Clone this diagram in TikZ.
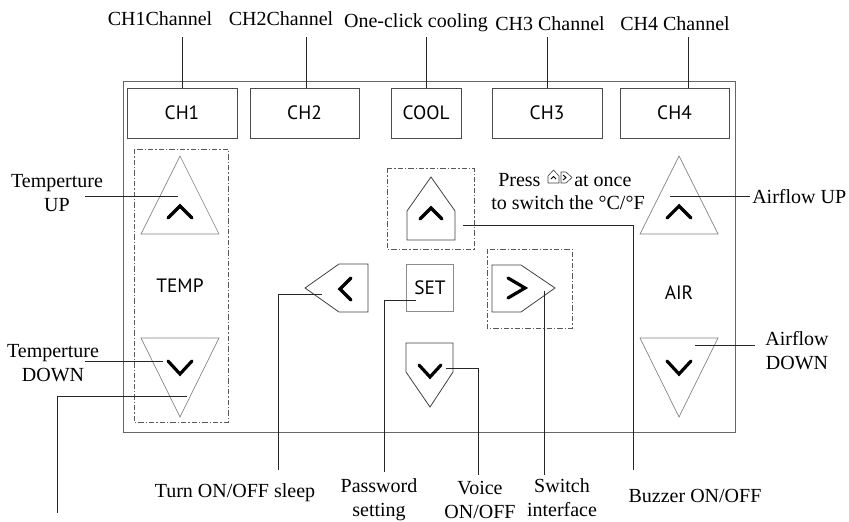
\documentclass[tikz,border=0pt]{standalone}
\usepackage{fontspec}
\setmainfont{Liberation Serif}
\newfontfamily\keyfont{PT Sans}
\usetikzlibrary{positioning}

\tikzset{
  lbl/.style={font=\fontsize{15}{17.5}\selectfont, align=center, inner sep=0pt},
  btn/.style={font=\keyfont\fontsize{14.5}{16}\selectfont, inner sep=0pt},
  chkey/.style={btn, draw=black!70, line width=0.6pt, minimum height=37.5pt},
  setkey/.style={btn, draw=black!45, line width=0.6pt, minimum size=35.5pt},
  panel/.style={draw=black!60, line width=0.7pt},
  grp/.style={draw=black!65, line width=0.5pt, dash pattern=on 4pt off 1.5pt on 1pt off 1.5pt},
  tri/.style={draw=black!50, line width=0.5pt},
  key/.style={draw=black!75, line width=0.6pt},
  chev/.style={line width=2.4pt, line cap=round},
  lead/.style={draw=black!85, line width=0.5pt}
}

\begin{document}
\begin{tikzpicture}[x=0.75pt,y=-0.75pt]
  \useasboundingbox (0,0) rectangle (849,521);
  \draw[panel] (123,81) rectangle (735,432);

  % channel keys on top
  \foreach \nm/\txt/\cx/\w in {ch1/CH1/182/110, ch2/CH2/304.5/109, cool/COOL/426/70,
                               ch3/CH3/547/110, ch4/CH4/674.5/109}
    \node[chkey, minimum width=\w*0.75pt] (\nm) at (\cx,113) {\txt};
  \node[lbl, anchor=base] (lch1) at (160,26) {CH1Channel};
  \node[lbl, anchor=base] (lch2) at (281,26) {CH2Channel};
  \node[lbl, anchor=base] (lcool) at (416,27) {One-click cooling};
  \node[lbl, anchor=base] (lch3) at (550,30) {CH3 Channel};
  \node[lbl, anchor=base] (lch4) at (675,30) {CH4 Channel};
  \foreach \k/\dx in {ch1/0, ch2/1.5, cool/0, ch3/0, ch4/13.5}
    \draw[lead] (\k.north) ++(\dx,0) -- ++(0,-51);

  % temperature and airflow columns
  \draw[grp] (134,149) rectangle (228,422);
  \foreach \cx/\nm/\txt/\ty in {180/temp/TEMP/286, 679/air/AIR/293} {
    \draw[tri] (\cx-39,234) -- (\cx,156) -- (\cx+39,234) -- cycle;
    \draw[chev] (\cx-12,218) -- (\cx,206) -- (\cx+12,218);
    \node[btn] (\nm) at (\cx,\ty) {\txt};
    \draw[tri] (\cx-39,338) -- (\cx+39,338) -- (\cx,417) -- cycle;
    \draw[chev] (\cx-12,361) -- (\cx,374) -- (\cx+12,361);
  }

  % arrow keys round SET
  \draw[grp] (387,168) rectangle (474,249);
  \draw[key] (407,240) -- (407,211) -- (431,177) -- (455,211) -- (455,240) -- cycle;
  \draw[chev] (420,219) -- (431,208) -- (442,219);
  \draw[key] (368,264) -- (339,264) -- (305,288) -- (339,312) -- (368,312) -- cycle;
  \draw[chev] (351,278) -- (340,289) -- (351,300);
  \node[setkey] (set) at (430,288) {SET};
  \draw[grp] (487,249) rectangle (572,328);
  \draw[key] (492,265) -- (521,265) -- (555,288) -- (521,312) -- (492,312) -- cycle;
  \draw[chev] (508,278) -- (525,288) -- (508,298);
  \draw[key] (406,343) -- (453,343) -- (453,372) -- (430,407) -- (406,372) -- cycle;
  \draw[chev] (419,365) -- (430,377) -- (441,365);

  % hint text
  \node[lbl, anchor=base west] (press) at (498,186) {Press};
  \draw[key, line width=0.45pt] (548,183) -- (548,176) -- (553.5,170) -- (559,176) -- (559,183) -- cycle;
  \draw[line width=0.7pt] (551,179) -- (553.5,176.5) -- (556,179);
  \draw[key, line width=0.45pt] (561,172) -- (566,172) -- (572,177.5) -- (566,183) -- (561,183) -- cycle;
  \draw[line width=0.7pt] (563,175) -- (566,177.5) -- (563,180);
  \node[lbl, anchor=base west] (once) at (574,186) {at once};
  \node[lbl, anchor=base] (swt) at (568,209) {to switch the °C/°F};

  % side labels
  \node[lbl, anchor=base] (tup) at (57,211) {Temperture\\UP};
  \node[lbl, anchor=base] (tdown) at (53,381) {Temperture\\DOWN};
  \node[lbl, anchor=base west] (aup) at (752,203) {Airflow UP};
  \node[lbl, anchor=base] (adown) at (797,369) {Airflow\\DOWN};
  \coordinate (tupa) at (85,196);   \coordinate (tupb) at (178,196);
  \coordinate (tdna) at (85,361);   \coordinate (tdnb) at (163,361);
  \coordinate (tlow) at (187,396);  \coordinate (tend) at (57,513);
  \coordinate (aupa) at (670,196);  \coordinate (aupb) at (750,196);
  \coordinate (adna) at (695,345);  \coordinate (adnb) at (755,345);
  \draw[lead] (tupa) -- (tupb);
  \draw[lead] (tdna) -- (tdnb);
  \draw[lead] (tlow) -| (tend);
  \draw[lead] (aupa) -- (aupb);
  \draw[lead] (adna) -- (adnb);

  % bottom labels
  \node[lbl, anchor=base] (sleep) at (235,497) {Turn ON/OFF sleep};
  \node[lbl, anchor=base] (pwd) at (379,516) {Password\\setting};
  \node[lbl, anchor=base] (voice) at (480,518) {Voice\\ON/OFF};
  \node[lbl, anchor=base] (swi) at (562,516) {Switch\\interface};
  \node[lbl, anchor=base] (buzz) at (695,502) {Buzzer ON/OFF};
  \coordinate (kleft) at (322,294);  \coordinate (esleep) at (278,470);
  \coordinate (kset) at (416,300);   \coordinate (epwd) at (384,472);
  \coordinate (kdown) at (446,368);  \coordinate (evoice) at (478,475);
  \coordinate (kright) at (544,291); \coordinate (eswi) at (544,475);
  \coordinate (kup) at (463,225);    \coordinate (ebuzz) at (633,470);
  \draw[lead] (kleft) -| (esleep);
  \draw[lead] (kset) -| (epwd);
  \draw[lead] (kdown) -| (evoice);
  \draw[lead] (kright) -- (eswi);
  \draw[lead] (kup) -| (ebuzz);
\end{tikzpicture}
\end{document}
